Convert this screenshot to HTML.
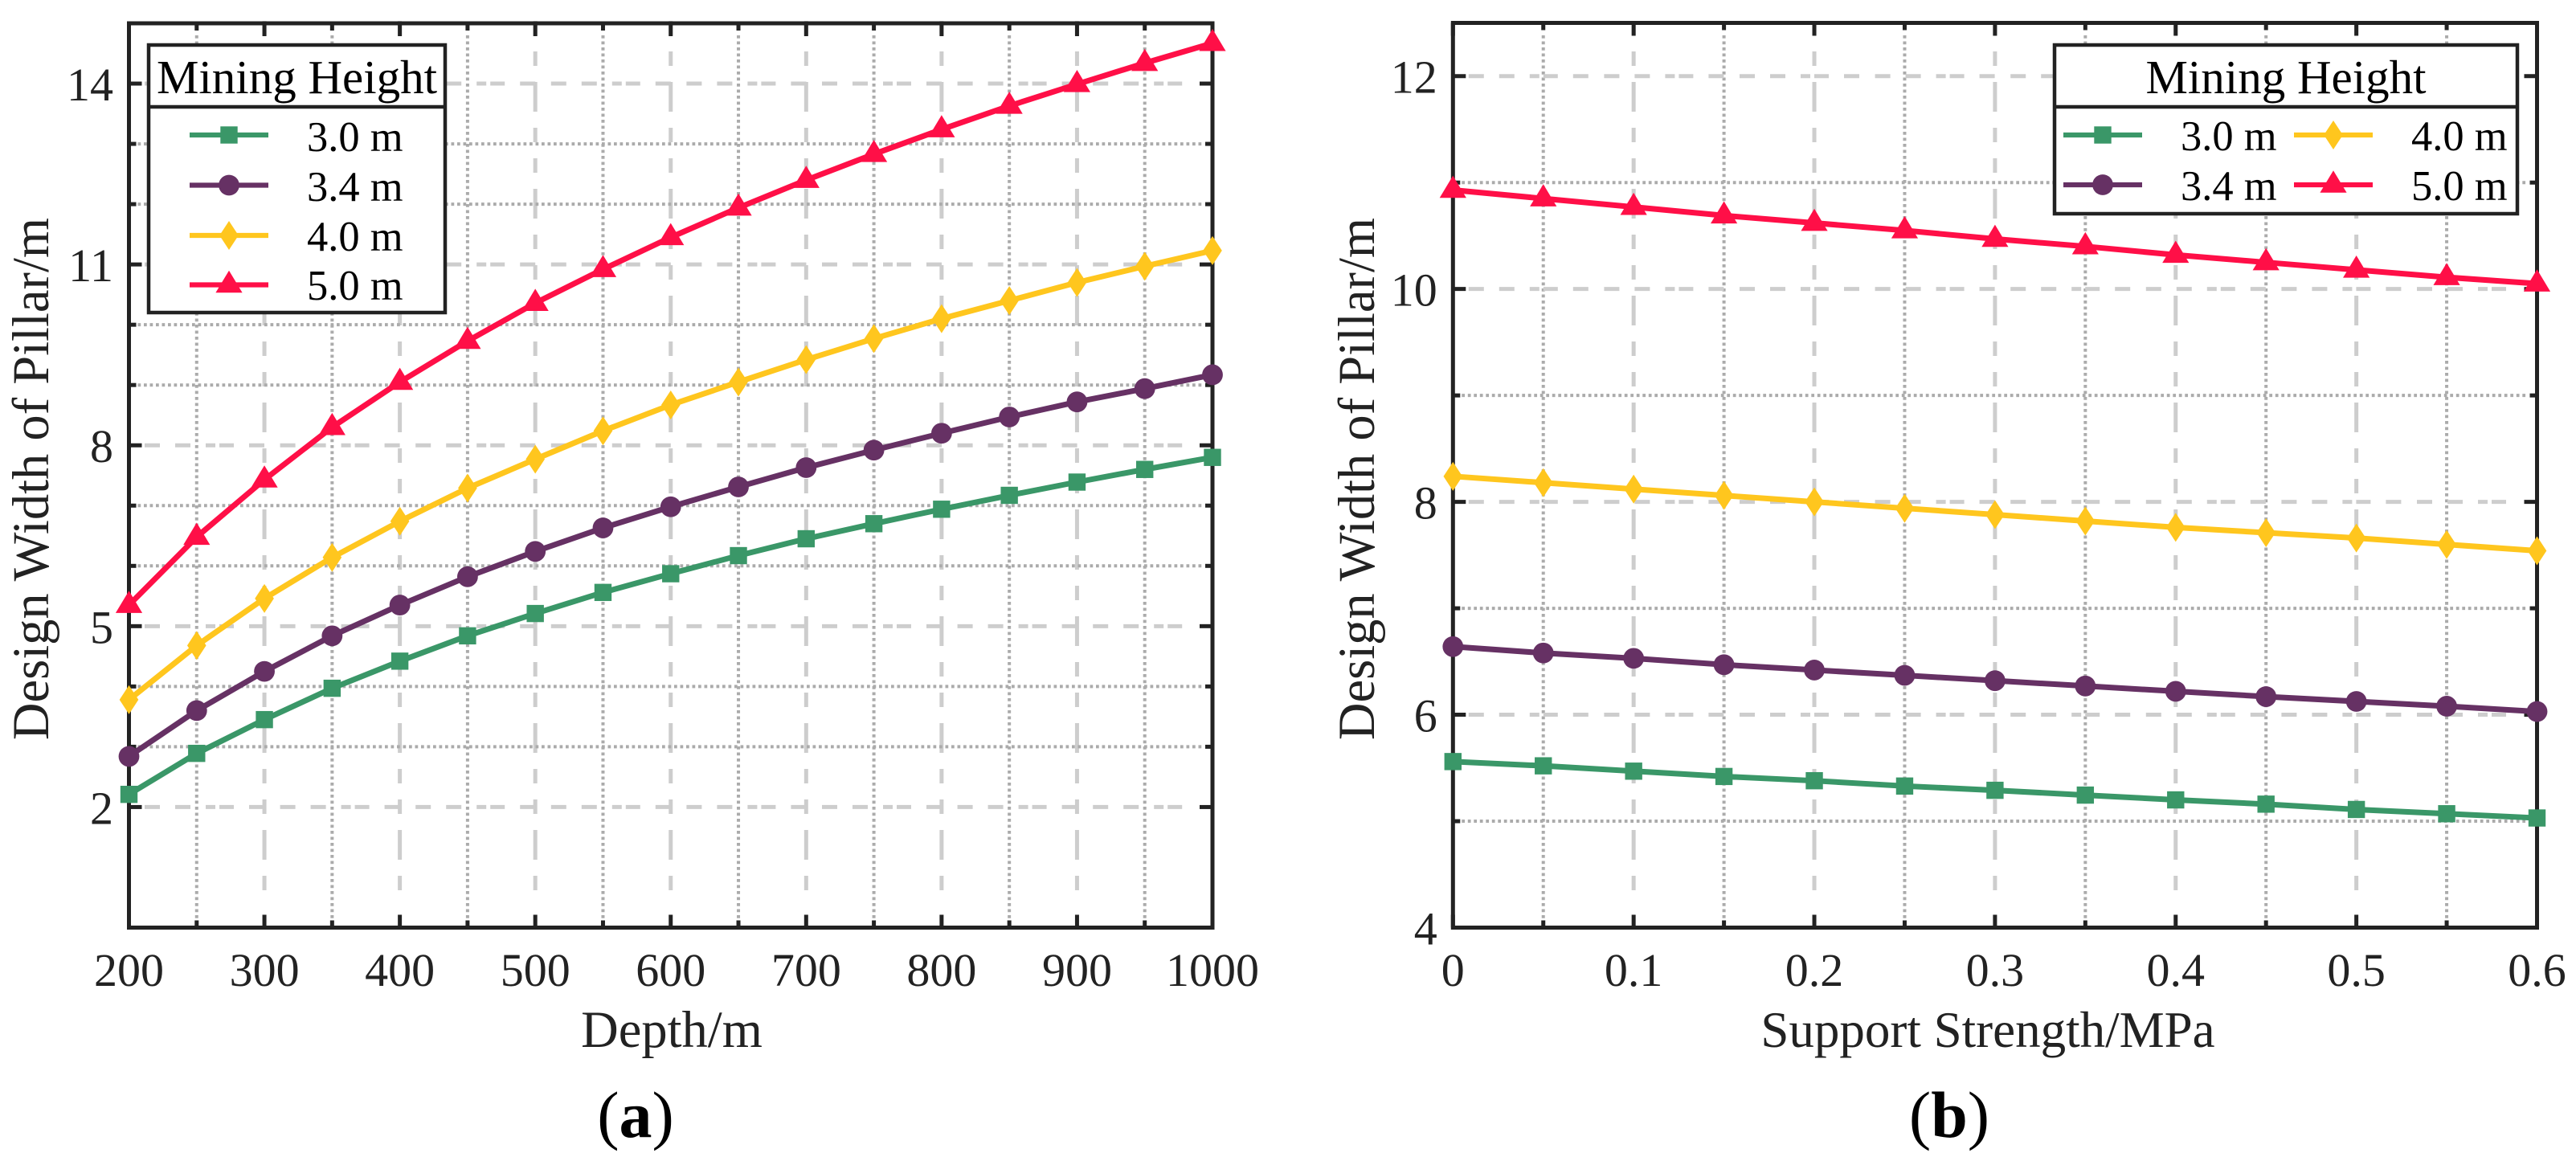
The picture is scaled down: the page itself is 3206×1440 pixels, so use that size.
<!DOCTYPE html>
<html lang="en">
<head>
<meta charset="utf-8">
<title>Design Width of Pillar vs Depth and Support Strength</title>
<style>
html,body{margin:0;padding:0;background:#fff;width:3206px;height:1440px;overflow:hidden}
svg{display:block}
text{font-family:"Liberation Serif",serif}
</style>
</head>
<body>
<svg id="figure" xmlns="http://www.w3.org/2000/svg" width="3206" height="1440" viewBox="0 0 3206 1440">
<rect width="3206" height="1440" fill="#fff"/>
<text x="791" y="1415" font-size="82" text-anchor="middle" fill="#000">(<tspan font-weight="bold">a</tspan>)</text>
<text x="2426" y="1415" font-size="82" text-anchor="middle" fill="#000">(<tspan font-weight="bold">b</tspan>)</text>
</svg>
<script>
// ---- Panel (a) data ----
const depthCategories = [200,250,300,350,400,450,500,550,600,650,700,750,800,850,900,950,1000];
const depthSeries30 = [2.21,2.89,3.45,3.97,4.42,4.84,5.21,5.56,5.87,6.17,6.45,6.70,6.94,7.17,7.39,7.60,7.80];
const depthSeries34 = [2.84,3.60,4.25,4.84,5.35,5.82,6.24,6.63,6.98,7.31,7.63,7.92,8.20,8.47,8.72,8.94,9.17];
const depthSeries40 = [3.78,4.68,5.46,6.14,6.74,7.29,7.77,8.24,8.67,9.05,9.42,9.77,10.10,10.40,10.70,10.97,11.23];
const depthSeries50 = [5.35,6.48,7.43,8.30,9.05,9.73,10.36,10.92,11.45,11.94,12.40,12.83,13.24,13.63,13.99,14.34,14.67];
const depthXMajorTicks = [200,300,400,500,600,700,800,900,1000];
const depthXMinorTicks = [250,350,450,550,650,750,850,950];
const depthYMajorTicks = [2,5,8,11,14];
const depthYMinorTicks = [3,4,6,7,9,10,12,13];
const depthXLabels = ["200","300","400","500","600","700","800","900","1000"];
const depthYLabels = ["2","5","8","11","14"];

// ---- Panel (b) data ----
const supportCategories = [0,0.05,0.1,0.15,0.2,0.25,0.3,0.35,0.4,0.45,0.5,0.55,0.6];
const supportSeries30 = [5.56,5.52,5.47,5.42,5.38,5.33,5.29,5.245,5.20,5.16,5.11,5.07,5.03];
const supportSeries34 = [6.64,6.58,6.53,6.47,6.42,6.37,6.32,6.27,6.22,6.17,6.125,6.08,6.03];
const supportSeries40 = [8.24,8.18,8.12,8.06,8.00,7.94,7.88,7.82,7.76,7.71,7.66,7.60,7.54];
const supportSeries50 = [10.93,10.85,10.77,10.69,10.62,10.55,10.47,10.40,10.32,10.25,10.18,10.11,10.05];
const supportXMajorTicks = [0,0.1,0.2,0.3,0.4,0.5,0.6];
const supportXMinorTicks = [0.05,0.15,0.25,0.35,0.45,0.55];
const supportYMajorTicks = [4,6,8,10,12];
const supportYMinorTicks = [5,7,9,11];
const supportXLabels = ["0","0.1","0.2","0.3","0.4","0.5","0.6"];
const supportYLabels = ["4","6","8","10","12"];

const seriesNames = ["3.0 m","3.4 m","4.0 m","5.0 m"];
const seriesSlugs = ["3-0m","3-4m","4-0m","5-0m"];
const seriesColors = ["#3A9768","#663164","#FFC61E","#FF0F47"];
const seriesMarkers = ["square","circle","diamond","triangle"];

const SVG_NS = "http://www.w3.org/2000/svg";
const root = document.getElementById("figure");

function make(tag, attrs, parent, text) {
  const node = document.createElementNS(SVG_NS, tag);
  for (const k in attrs) node.setAttribute(k, attrs[k]);
  if (text !== undefined) node.textContent = text;
  (parent || root).appendChild(node);
  return node;
}

function makeMarker(kind, cx, cy, color, parent) {
  if (kind === "square") return make("rect", {x: cx - 10.7, y: cy - 10.7, width: 21.4, height: 21.4, fill: color}, parent);
  if (kind === "circle") return make("circle", {cx: cx, cy: cy, r: 12.9, fill: color}, parent);
  if (kind === "diamond") return make("polygon", {points: `${cx},${cy - 18} ${cx + 11.8},${cy} ${cx},${cy + 18} ${cx - 11.8},${cy}`, fill: color}, parent);
  return make("polygon", {points: `${cx},${cy - 17.8} ${cx + 16.6},${cy + 9.8} ${cx - 16.6},${cy + 9.8}`, fill: color}, parent);
}

function drawPanel(cfg) {
  const g = make("g", {});
  
  

  const x = v => cfg.left + (v - cfg.xMin) / (cfg.xMax - cfg.xMin) * (cfg.right - cfg.left);
  const y = v => cfg.bottom - (v - cfg.yMin) / (cfg.yMax - cfg.yMin) * (cfg.bottom - cfg.top);

  const DASH_H = "19 19 19 19 12 5 18 19 19 19.6";
  const DASH_V = "18 20 18 20 37 20";
  const DOT = "3.75 3.75";

  // grid
  cfg.xMajor.forEach(v => {
    if (v === cfg.xMin || v === cfg.xMax) return;
    const el = make("line", {x1: x(v), x2: x(v), y1: 26, y2: 1117, stroke: "#cdcdcd", "stroke-width": 5, "stroke-dasharray": DASH_V}, g);
    
    
  });
  cfg.xMinor.forEach(v => {
    const el = make("line", {x1: x(v), x2: x(v), y1: 44, y2: 1143, stroke: "#ababab", "stroke-width": 4, "stroke-dasharray": DOT}, g);
    
    
  });
  cfg.yMajor.forEach(v => {
    if (v === cfg.yMin) return;
    const el = make("line", {x1: cfg.left + 19.5, x2: cfg.right - 37, y1: y(v), y2: y(v), stroke: "#cdcdcd", "stroke-width": 5, "stroke-dasharray": DASH_H}, g);
    
    
  });
  cfg.yMinor.forEach(v => {
    const el = make("line", {x1: cfg.left + 11, x2: cfg.right - 11, y1: y(v), y2: y(v), stroke: "#ababab", "stroke-width": 4, "stroke-dasharray": DOT}, g);
    
    
  });

  // ticks
  const tickStyle = {stroke: "#222", "stroke-width": 5};
  const addXTicks = (list, len, name) => list.forEach(v => {
    const b = make("line", {x1: x(v), x2: x(v), y1: cfg.bottom, y2: cfg.bottom - len, ...tickStyle}, g);
    
    
    const t = make("line", {x1: x(v), x2: x(v), y1: cfg.top, y2: cfg.top + len, ...tickStyle}, g);
    
    
  });
  const addYTicks = (list, len, name) => list.forEach(v => {
    const l = make("line", {x1: cfg.left, x2: cfg.left + len, y1: y(v), y2: y(v), ...tickStyle}, g);
    
    
    const r = make("line", {x1: cfg.right, x2: cfg.right - len, y1: y(v), y2: y(v), ...tickStyle}, g);
    
    
  });
  addXTicks(cfg.xMajor, 16, 'x-major-tick');
  addXTicks(cfg.xMinor, 9, 'x-minor-tick');
  addYTicks(cfg.yMajor, 16, 'y-major-tick');
  addYTicks(cfg.yMinor, 9, 'y-minor-tick');

  // frame
  const frame = make("rect", {x: cfg.left, y: cfg.top, width: cfg.right - cfg.left, height: cfg.bottom - cfg.top, fill: "none", stroke: "#222", "stroke-width": 5}, g);
  
  

  // tick labels
  cfg.xMajor.forEach((v, i) => {
    const el = make("text", {x: x(v), y: 1227, "font-size": 58, "text-anchor": "middle", fill: "#222"}, g, cfg.xLabels[i]);
    
    
  });
  cfg.yMajor.forEach((v, i) => {
    const el = make("text", {x: cfg.left - 19.5, y: y(v) + 21, "font-size": 58, "text-anchor": "end", fill: "#222"}, g, cfg.yLabels[i]);
    
    
  });

  // axis titles
  const xt = make("text", {x: cfg.xTitleX, y: 1303, "font-size": cfg.xTitleSize, "text-anchor": "middle", fill: "#222"}, g, cfg.xTitle);
  
  
  const yt = make("text", {transform: `translate(${cfg.yTitleX},596) rotate(-90)`, "font-size": 64.5, "text-anchor": "middle", fill: "#222"}, g, "Design Width of Pillar/m");
  
  

  // series
  cfg.series.forEach((vals, s) => {
    const sg = make("g", {}, g);
    
    
    const pts = vals.map((v, i) => `${x(cfg.categories[i]).toFixed(2)},${y(v).toFixed(2)}`).join(" ");
    const line = make("polyline", {points: pts, fill: "none", stroke: seriesColors[s], "stroke-width": 7, "stroke-linejoin": "round"}, sg);
    
    
    vals.forEach((v, i) => {
      const mk = makeMarker(seriesMarkers[s], x(cfg.categories[i]), y(v), seriesColors[s], sg);
      
      
    });
  });

  // legend
  const L = cfg.legend;
  const lg = make("g", {}, g);
  
  
  const box = make("rect", {x: L.x, y: L.y, width: L.w, height: L.h, fill: "#fff", stroke: "#222", "stroke-width": 4.5}, lg);
  
  
  const sep = make("line", {x1: L.x, x2: L.x + L.w, y1: 133, y2: 133, stroke: "#222", "stroke-width": 4.5}, lg);
  
  
  const title = make("text", {x: L.x + L.w / 2, y: 116, "font-size": 59, "text-anchor": "middle", fill: "#000"}, lg, "Mining Height");
  
  
  L.entries.forEach((e, s) => {
    const entry = make("g", {}, lg);
    
    
    make("line", {x1: e.lineX, x2: e.lineX + 98, y1: e.lineY, y2: e.lineY, stroke: seriesColors[s], "stroke-width": 6.2}, entry);
    makeMarker(seriesMarkers[s], e.lineX + 49, e.lineY, seriesColors[s], entry);
    make("text", {x: e.textX, y: e.baseY, "font-size": 52.5, fill: "#000"}, entry, seriesNames[s]);
  });
}

drawPanel({
  id: "depth", left: 160.5, right: 1509, top: 29, bottom: 1154.5,
  xMin: 200, xMax: 1000, yMin: 0, yMax: 15,
  categories: depthCategories,
  series: [depthSeries30, depthSeries34, depthSeries40, depthSeries50],
  xMajor: depthXMajorTicks, xMinor: depthXMinorTicks, yMajor: depthYMajorTicks, yMinor: depthYMinorTicks,
  xLabels: depthXLabels, yLabels: depthYLabels,
  xTitle: "Depth/m", xTitleX: 836, xTitleSize: 64.5, yTitleX: 60,
  legend: {x: 185, y: 56, w: 369, h: 333, entries: [
    {lineX: 236, lineY: 168, textX: 382, baseY: 188},
    {lineX: 236, lineY: 230.5, textX: 382, baseY: 250},
    {lineX: 236, lineY: 293, textX: 382, baseY: 312},
    {lineX: 236, lineY: 354.5, textX: 382, baseY: 373}
  ]}
});

drawPanel({
  id: "support", left: 1808.3, right: 3157.5, top: 28.5, bottom: 1154.5,
  xMin: 0, xMax: 0.6, yMin: 4, yMax: 12.5,
  categories: supportCategories,
  series: [supportSeries30, supportSeries34, supportSeries40, supportSeries50],
  xMajor: supportXMajorTicks, xMinor: supportXMinorTicks, yMajor: supportYMajorTicks, yMinor: supportYMinorTicks,
  xLabels: supportXLabels, yLabels: supportYLabels,
  xTitle: "Support Strength/MPa", xTitleX: 2474, xTitleSize: 63, yTitleX: 1710,
  legend: {x: 2557, y: 56, w: 576, h: 210, entries: [
    {lineX: 2568, lineY: 168, textX: 2714, baseY: 187},
    {lineX: 2568, lineY: 230, textX: 2714, baseY: 249},
    {lineX: 2855, lineY: 168, textX: 3001, baseY: 187},
    {lineX: 2855, lineY: 230, textX: 3001, baseY: 249}
  ]}
});
</script>
</body>
</html>
